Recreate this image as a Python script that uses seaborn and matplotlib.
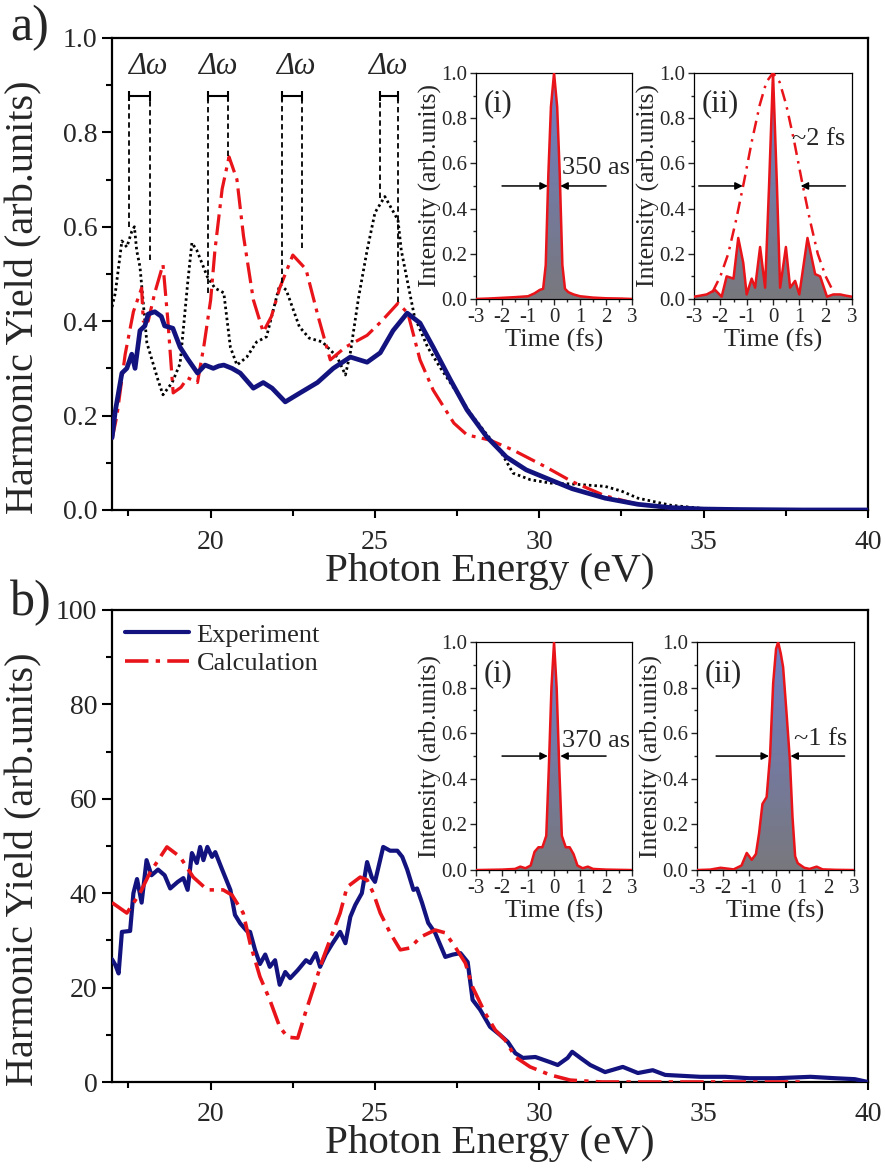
import numpy as np
import matplotlib
matplotlib.use("Agg")
import matplotlib.pyplot as plt
from matplotlib.patches import Polygon
from matplotlib.ticker import MultipleLocator, FormatStrFormatter
import seaborn as sns

# ---------------- data ----------------
# (a) spectra, harmonic yield vs photon energy (eV)
a_exp_x = [17.0, 17.1, 17.3, 17.45, 17.6, 17.7, 17.85, 18.0, 18.1, 18.3, 18.5, 18.6, 18.85,
           19.07, 19.3, 19.6, 19.83, 20.08, 20.25, 20.4, 20.65, 20.9, 21.3, 21.6, 21.87, 22.27,
           22.72, 23.25, 23.73, 24.25, 24.76, 25.16, 25.55, 25.98, 26.37, 26.77, 27.3, 27.8,
           28.4, 29.0, 29.6, 30.33, 31.0, 32.0, 33.0, 34.0, 35.0, 36.0, 38.0, 40.0]
a_exp_y = [0.153, 0.21, 0.29, 0.30, 0.33, 0.30, 0.38, 0.39, 0.415, 0.42, 0.41, 0.39, 0.385,
           0.345, 0.32, 0.29, 0.307, 0.30, 0.305, 0.307, 0.30, 0.29, 0.258, 0.27, 0.258, 0.229,
           0.248, 0.27, 0.30, 0.324, 0.313, 0.333, 0.38, 0.417, 0.396, 0.345, 0.275, 0.212,
           0.155, 0.112, 0.085, 0.064, 0.045, 0.025, 0.012, 0.005, 0.002, 0.001, 0.0, 0.0]

a_calc_x = [17.0, 17.15, 17.4, 17.65, 17.9, 17.95, 18.1, 18.3, 18.55, 18.7, 18.86, 19.1, 19.3,
            19.6, 19.8, 20.0, 20.13, 20.35, 20.56, 20.8, 21.0, 21.3, 21.6, 21.85, 22.1, 22.5,
            22.9, 23.27, 23.64, 24.1, 24.76, 25.2, 25.7, 26.0, 26.37, 26.77, 27.4, 27.8, 28.5,
            29.2, 30.2, 31.0, 32.0, 33.0, 34.0, 36.0, 40.0]
a_calc_y = [0.15, 0.2, 0.33, 0.42, 0.47, 0.40, 0.40, 0.46, 0.52, 0.40, 0.248, 0.26, 0.28,
            0.27, 0.35, 0.445, 0.55, 0.68, 0.748, 0.70, 0.58, 0.445, 0.377, 0.41, 0.47, 0.54,
            0.51, 0.41, 0.318, 0.345, 0.37, 0.40, 0.438, 0.417, 0.318, 0.254, 0.184, 0.159, 0.148,
            0.127, 0.091, 0.06, 0.03, 0.012, 0.004, 0.0, 0.0]

a_model_x = [17.0, 17.1, 17.3, 17.45, 17.6, 17.68, 17.75, 17.85, 18.06, 18.4, 18.55, 18.83,
             19.07, 19.3, 19.43, 19.58, 19.9, 20.13, 20.4, 20.6, 20.8, 21.1, 21.4, 21.7, 22.1,
             22.3, 22.7, 23.0, 23.4, 23.85, 24.1, 24.25, 24.5, 24.76, 25.0, 25.3, 25.7, 25.8,
             26.2, 26.6, 27.0, 27.5, 27.9, 28.4, 28.8, 29.2, 29.73, 30.33, 31.0, 32.0, 32.5,
             33.0, 34.0, 35.0, 37.0, 40.0]
a_model_y = [0.43, 0.46, 0.57, 0.557, 0.59, 0.60, 0.55, 0.515, 0.354, 0.275, 0.244, 0.27,
             0.31, 0.48, 0.566, 0.55, 0.494, 0.47, 0.46, 0.345, 0.307, 0.324, 0.356, 0.367, 0.477,
             0.466, 0.388, 0.364, 0.356, 0.324, 0.286, 0.333, 0.45, 0.55, 0.63, 0.664, 0.614, 0.55,
             0.41, 0.345, 0.30, 0.248, 0.205, 0.16, 0.127, 0.078, 0.064, 0.057, 0.055, 0.05, 0.04,
             0.025, 0.01, 0.003, 0.0, 0.0]

# spectral spacing markers: left / right energies and lower ends of the guide lines
dw_left = [17.52, 19.92, 22.17, 25.16]
dw_right = [18.16, 20.53, 22.78, 25.70]
dw_left_end = [0.60, 0.46, 0.48, 0.66]
dw_right_end = [0.53, 0.75, 0.555, 0.44]
dw_label_x = [18.07, 20.2, 22.6, 25.4]

# (b) spectra
b_exp_x = [17.0, 17.1, 17.2, 17.3, 17.55, 17.65, 17.76, 17.9, 18.05, 18.2, 18.4, 18.6, 18.77,
           19.0, 19.17, 19.3, 19.43, 19.58, 19.68, 19.78, 19.9, 20.04, 20.14, 20.35, 20.6,
           20.74, 20.9, 21.1, 21.2, 21.35, 21.5, 21.66, 21.8, 21.96, 22.1, 22.27, 22.42, 22.65,
           22.9, 23.03, 23.2, 23.33, 23.5, 23.71, 23.94, 24.1, 24.25, 24.4, 24.6, 24.76, 24.9,
           25.0, 25.25, 25.46, 25.68, 25.83, 25.98, 26.17, 26.28, 26.43, 26.62, 26.83, 27.14,
           27.37, 27.6, 27.82, 27.97, 28.2, 28.5, 28.8, 29.04, 29.27, 29.5, 29.88, 30.33, 30.56,
           30.86, 31.0, 31.25, 31.55, 32.0, 32.54, 33.0, 33.45, 33.83, 34.9, 35.66, 36.4, 37.2,
           38.25, 39.0, 39.6, 40.0]
b_exp_y = [26, 24.8, 23, 31.8, 32, 40, 43, 38, 47, 43.8, 45, 43.8, 41,
           42.4, 43.2, 40.7, 48.5, 46.4, 49.8, 47, 49.8, 47.7, 48.7, 45, 40.7,
           35.4, 33.6, 32, 31.8, 28, 25, 27, 24.4, 25.8, 20.6, 23.3, 22, 23.7,
           25.8, 25.2, 27.3, 24.4, 27, 29.4, 31.8, 29.4, 35, 37.5, 40, 46.6, 43.4,
           42.4, 49.8, 49, 49, 47.7, 45, 40.7, 41, 38, 33.7, 31.6, 26.5,
           27, 27.3, 25.4, 17.4, 15.3, 11.7, 10, 8.5, 6.1, 5.1, 5.3, 4.2, 3.6,
           5.1, 6.4, 5.1, 3.6, 2.1, 3.2, 1.9, 2.5, 1.5, 1.1, 1.1, 0.8, 0.8,
           1.1, 0.8, 0.6, 0.0]

b_calc_x = [17.0, 17.45, 17.85, 18.15, 18.67, 19.07, 19.47, 19.9, 20.38, 20.65, 20.99, 21.2,
            21.5, 21.8, 22.1, 22.34, 22.65, 22.88, 23.18, 23.4, 23.71, 23.94, 24.15, 24.55,
            24.76, 24.95, 25.16, 25.46, 25.77, 26.07, 26.38, 26.83, 27.14, 27.44, 27.75, 27.97,
            28.35, 28.66, 28.96, 29.27, 29.72, 30.33, 30.94, 31.9, 35.0, 38.0]
b_calc_y = [38, 35.8, 40, 44.3, 49.8, 47.7, 43.4, 40.7, 40.7, 39.6, 35.8, 29.4,
            22.3, 17.4, 11.7, 9.5, 9.3, 14.6, 21, 25.8, 31.6, 35.8, 41.3, 43.4,
            42.8, 40, 35.8, 31.6, 28, 28.4, 30.7, 32.2, 31.6, 28.6, 25.2, 20.1,
            14.6, 11, 8.9, 5.3, 3.2, 1.5, 0.4, 0, 0, 0]

# attosecond pulse profiles, intensity vs time (fs)
ai_t = [-3.0, -2.5, -2.0, -1.5, -1.0, -0.75, -0.55, -0.42, -0.32, -0.22, -0.12, 0.0, 0.12, 0.22,
        0.32, 0.42, 0.55, 0.75, 1.0, 1.5, 2.0, 2.5, 3.0]
ai_v = [0.0, 0.002, 0.005, 0.008, 0.012, 0.025, 0.04, 0.045, 0.15, 0.55, 0.85, 1.0, 0.85, 0.55,
        0.15, 0.045, 0.03, 0.02, 0.012, 0.006, 0.003, 0.002, 0.0]

aii_t = [-3.0, -2.75, -2.52, -2.2, -1.95, -1.76, -1.5, -1.32, -1.13, -1.0, -0.81, -0.68, -0.49,
         -0.3, -0.15, 0.0, 0.15, 0.27, 0.49, 0.65, 0.84, 1.0, 1.31, 1.6, 1.79, 2.05, 2.29, 2.55,
         2.75, 3.0]
aii_v = [0.01, 0.015, 0.02, 0.04, 0.01, 0.10, 0.09, 0.27, 0.16, 0.02, 0.09, 0.05, 0.23,
         0.05, 0.5, 1.0, 0.5, 0.05, 0.23, 0.05, 0.08, 0.02, 0.27, 0.11, 0.10, 0.01, 0.02, 0.02,
         0.015, 0.01]
env_t = [-2.3, -2.0, -1.7, -1.4, -1.1, -0.8, -0.5, -0.25, 0.0, 0.25, 0.5, 0.8, 1.1, 1.4, 1.7,
         2.0, 2.3]
env_v = [0.03, 0.1, 0.2, 0.35, 0.52, 0.7, 0.86, 0.96, 1.0, 0.96, 0.86, 0.7, 0.52, 0.35, 0.2,
         0.1, 0.03]

bi_t = [-3.0, -2.0, -1.5, -1.3, -1.1, -0.9, -0.75, -0.6, -0.45, -0.3, -0.2, -0.1, 0.0, 0.1, 0.2,
        0.3, 0.45, 0.6, 0.75, 0.9, 1.1, 1.3, 1.5, 2.0, 3.0]
bi_v = [0.0, 0.002, 0.005, 0.015, 0.008, 0.02, 0.08, 0.10, 0.10, 0.15, 0.45, 0.8, 1.0, 0.8, 0.45,
        0.15, 0.10, 0.10, 0.07, 0.02, 0.008, 0.015, 0.005, 0.002, 0.0]

bii_t = [-3.0, -2.5, -2.1, -1.6, -1.3, -1.1, -0.91, -0.75, -0.63, -0.5, -0.34, -0.21, -0.09,
         0.02, 0.1, 0.2, 0.29, 0.42, 0.55, 0.65, 0.75, 0.85, 1.1, 1.3, 1.57, 1.8, 2.3, 3.0]
bii_v = [0.0, 0.002, 0.01, 0.003, 0.02, 0.075, 0.045, 0.07, 0.16, 0.29, 0.32, 0.5, 0.82,
         0.97, 1.0, 0.95, 0.89, 0.69, 0.48, 0.23, 0.06, 0.03, 0.01, 0.005, 0.015, 0.003, 0.001, 0.0]

# ---------------- style ----------------
sns.set_style("ticks")
plt.rcParams['font.family'] = ['Liberation Serif', 'DejaVu Serif']
plt.rcParams['axes.unicode_minus'] = False

NAVY = "#13137f"
RED = "#e8141a"
DASHDOT = (0, (6.5, 2, 1.2, 2))

fig = plt.figure(figsize=(8.85, 11.71), dpi=100)
ax_a = fig.add_axes([0.1266, 0.5645, 0.8542, 0.4031])
ax_b = fig.add_axes([0.1266, 0.0760, 0.8542, 0.4031])


def style_main(ax, ymax, ymaj, ymin, fmt):
    ax.set_xlim(17, 40)
    ax.set_ylim(0, ymax)
    ax.xaxis.set_major_locator(MultipleLocator(5))
    ax.xaxis.set_minor_locator(MultipleLocator(2.5))
    ax.yaxis.set_major_locator(MultipleLocator(ymaj))
    ax.yaxis.set_minor_locator(MultipleLocator(ymin))
    ax.yaxis.set_major_formatter(FormatStrFormatter(fmt))
    ax.tick_params(which='both', direction='out', top=False, right=False,
                   width=1.5, color='black', labelsize=20)
    ax.tick_params(axis='y', which='major', length=7.5, pad=3)
    ax.tick_params(axis='y', which='minor', length=4)
    ax.tick_params(axis='x', which='major', length=5.5, pad=9)
    ax.tick_params(axis='x', which='minor', length=4)
    for s in ax.spines.values():
        s.set_linewidth(1.6)
        s.set_color('black')
    ax.set_xlabel("Photon Energy (eV)", fontsize=29.5)
    ax.set_ylabel("Harmonic Yield (arb.units)", fontsize=29)
    ax.yaxis.set_label_coords(-0.092, 0.45)
    ax.xaxis.set_label_coords(0.5, -0.092)


def gradient_fill(ax, t, v):
    verts = [(t[0], 0)] + list(zip(t, v)) + [(t[-1], 0)]
    poly = Polygon(verts, closed=True, facecolor='none', edgecolor='none')
    ax.add_patch(poly)
    g = np.linspace(0, 1, 256)[:, None, None]
    bottom = np.array([0.47, 0.47, 0.49])
    top = np.array([0.44, 0.49, 0.78])
    img = bottom + g * (top - bottom)
    im = ax.imshow(img, extent=[t[0], t[-1], 0, 1], origin='lower',
                   aspect='auto', zorder=1, interpolation='bilinear')
    im.set_clip_path(poly)


def inset(rect, t, v, tag, xlab_y):
    ax = fig.add_axes(rect)
    gradient_fill(ax, t, v)
    sns.lineplot(x=t, y=v, ax=ax, color=RED, lw=1.8, estimator=None, sort=False, zorder=3)
    ax.set_xlim(-3, 3)
    ax.set_ylim(0, 1.0)
    ax.xaxis.set_major_locator(MultipleLocator(1))
    ax.xaxis.set_minor_locator(MultipleLocator(0.5))
    ax.yaxis.set_major_locator(MultipleLocator(0.2))
    ax.yaxis.set_minor_locator(MultipleLocator(0.1))
    ax.yaxis.set_major_formatter(FormatStrFormatter('%.1f'))
    ax.tick_params(which='both', direction='out', top=False, right=False,
                   width=1.0, labelsize=15, pad=2)
    ax.tick_params(which='major', length=4.5)
    ax.tick_params(which='minor', length=2.5)
    for s in ax.spines.values():
        s.set_linewidth(0.9)
        s.set_color('black')
    ax.set_xlabel("Time (fs)", fontsize=19)
    ax.set_ylabel("Intensity (arb.units)", fontsize=18.5)
    ax.xaxis.set_label_coords(0.5, xlab_y)
    ax.yaxis.set_label_coords(-0.215, 0.5)
    ax.text(-2.72, 0.83, tag, fontsize=22, ha='left', va='baseline')
    return ax


def fwhm_arrows(ax, x0, x1, x2, x3, y=0.5):
    kw = dict(arrowstyle='-|>', color='black', lw=1.1, mutation_scale=11,
              shrinkA=0, shrinkB=0)
    ax.annotate('', xy=(x1, y), xytext=(x0, y), arrowprops=kw, zorder=5)
    ax.annotate('', xy=(x2, y), xytext=(x3, y), arrowprops=kw, zorder=5)


# ---------------- panel (a) ----------------
sns.lineplot(x=a_model_x, y=a_model_y, ax=ax_a, color='black', lw=2.0,
             linestyle=(0, (0.9, 1.1)), estimator=None, sort=False, zorder=2)
sns.lineplot(x=a_calc_x, y=a_calc_y, ax=ax_a, color=RED, lw=2.3,
             linestyle=DASHDOT, estimator=None, sort=False, zorder=3)
sns.lineplot(x=a_exp_x, y=a_exp_y, ax=ax_a, color=NAVY, lw=3.4,
             estimator=None, sort=False, zorder=4)

for xl, xr, yl, yr, xt in zip(dw_left, dw_right, dw_left_end, dw_right_end, dw_label_x):
    ax_a.vlines([xl], yl, 0.877, colors='black', lw=1.3, linestyles=[(0, (3, 2))], zorder=5)
    ax_a.vlines([xr], yr, 0.877, colors='black', lw=1.3, linestyles=[(0, (3, 2))], zorder=5)
    ax_a.errorbar([(xl + xr) / 2], [0.877], xerr=[(xr - xl) / 2], color='black',
                  lw=1.5, capsize=3.5, capthick=1.5, fmt='none', zorder=5)
    ax_a.text(xt, 0.94, "Δω", fontsize=22, style='italic', ha='center', va='center')

style_main(ax_a, 1.0, 0.2, 0.1, '%.1f')

# ---------------- panel (b) ----------------
sns.lineplot(x=b_exp_x, y=b_exp_y, ax=ax_b, color=NAVY, lw=3.0,
             estimator=None, sort=False, zorder=3, label="Experiment")
sns.lineplot(x=b_calc_x, y=b_calc_y, ax=ax_b, color=RED, lw=2.6,
             linestyle=DASHDOT, estimator=None, sort=False, zorder=4, label="Calculation")
style_main(ax_b, 100, 20, 10, '%d')
ax_b.legend(loc='upper left', frameon=False, fontsize=19, handlelength=2.4,
            handletextpad=0.3, labelspacing=0.2, borderaxespad=0.2, borderpad=0.3)

# ---------------- insets ----------------
ia1 = inset([0.5379, 0.7447, 0.1763, 0.1930], ai_t, ai_v, "(i)", -0.13)
fwhm_arrows(ia1, -2.0, -0.24, 0.24, 2.0)
ia1.text(0.3, 0.555, "350 as", fontsize=19, ha='left', va='baseline')

ia2 = inset([0.7842, 0.7447, 0.1785, 0.1930], aii_t, aii_v, "(ii)", -0.13)
sns.lineplot(x=env_t, y=env_v, ax=ia2, color=RED, lw=1.8, linestyle=(0, (5, 2.5, 1, 2.5)),
             estimator=None, sort=False, zorder=4)
fwhm_arrows(ia2, -2.82, -1.15, 1.05, 2.75)
ia2.text(0.72, 0.68, "~2 fs", fontsize=19, ha='left', va='baseline')

ib1 = inset([0.5379, 0.2570, 0.1763, 0.1947], bi_t, bi_v, "(i)", -0.13)
fwhm_arrows(ib1, -2.0, -0.24, 0.24, 2.0)
ib1.text(0.3, 0.54, "370 as", fontsize=19, ha='left', va='baseline')

ib2 = inset([0.7876, 0.2570, 0.1774, 0.1947], bii_t, bii_v, "(ii)", -0.13)
fwhm_arrows(ib2, -2.27, -0.25, 0.57, 2.64)
ib2.text(0.72, 0.55, "~1 fs", fontsize=19, ha='left', va='baseline')

# panel tags
fig.text(10 / 885, 1 - 5 / 1171, "a)", fontsize=36, ha='left', va='top')
fig.text(10 / 885, 1 - 580 / 1171, "b)", fontsize=36, ha='left', va='top')

fig.savefig("out.png", dpi=100)
